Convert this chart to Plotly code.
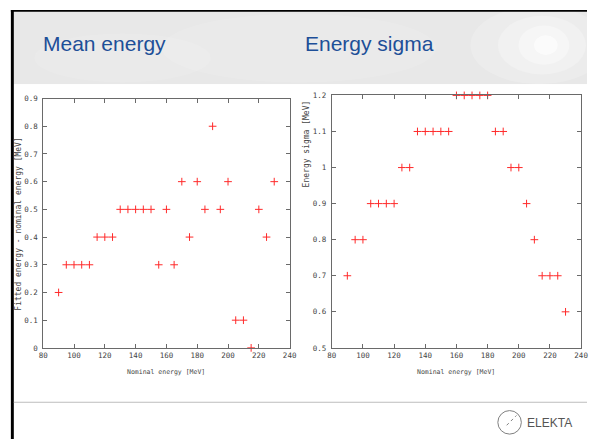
import plotly.graph_objects as go

# Nominal beam energies [MeV]
nominal_energy = [90, 95, 100, 105, 110, 115, 120, 125, 130, 135, 140, 145, 150, 155, 160,
                  165, 170, 175, 180, 185, 190, 195, 200, 205, 210, 215, 220, 225, 230]

# Fitted energy - nominal energy [MeV]
mean_offset = [0.2, 0.3, 0.3, 0.3, 0.3, 0.4, 0.4, 0.4, 0.5, 0.5, 0.5, 0.5, 0.5, 0.3, 0.5,
               0.3, 0.6, 0.4, 0.6, 0.5, 0.8, 0.5, 0.6, 0.1, 0.1, 0.0, 0.5, 0.4, 0.6]

# Energy sigma [MeV]
energy_sigma = [0.7, 0.8, 0.8, 0.9, 0.9, 0.9, 0.9, 1.0, 1.0, 1.1, 1.1, 1.1, 1.1, 1.1, 1.2,
                1.2, 1.2, 1.2, 1.2, 1.1, 1.1, 1.0, 1.0, 0.9, 0.8, 0.7, 0.7, 0.7, 0.6]

slide_titles = ["Mean energy", "Energy sigma"]
x_title = "Nominal energy [MeV]"
y_titles = ["Fitted energy - nominal energy [MeV]", "Energy sigma [MeV]"]

W, H = 594, 444


def px(x):
    return x / W


def py(y):
    return 1 - y / H


marker = dict(symbol="cross-thin", size=5.5, line=dict(color="#ff2a2a", width=1))

fig = go.Figure()
fig.add_trace(go.Scatter(x=nominal_energy, y=mean_offset, mode="markers", marker=marker,
                         cliponaxis=False, xaxis="x", yaxis="y", showlegend=False))
fig.add_trace(go.Scatter(x=nominal_energy, y=energy_sigma, mode="markers", marker=marker,
                         cliponaxis=False, xaxis="x2", yaxis="y2", showlegend=False))

tick_font = dict(family="DejaVu Sans Mono", size=7.5, color="#444444")
axis_common = dict(showgrid=False, zeroline=False, showline=True, mirror="ticks",
                   linecolor="#6a6a6a", linewidth=1, ticks="inside", ticklen=4,
                   tickcolor="#6a6a6a", tickfont=tick_font)

fig.update_layout(
    width=W, height=H,
    margin=dict(l=0, r=0, t=0, b=0),
    paper_bgcolor="white", plot_bgcolor="rgba(0,0,0,0)",
    xaxis=dict(domain=[px(39), px(290.5)], range=[80, 240], dtick=20, anchor="y", **axis_common),
    yaxis=dict(domain=[py(351), py(96.5)], range=[0, 0.9], dtick=0.1, anchor="x",
               ticklabelstandoff=3, **axis_common),
    xaxis2=dict(domain=[px(333.5), px(588)], range=[80, 240], dtick=20, anchor="y2", **axis_common),
    yaxis2=dict(domain=[py(351), py(93.3)], range=[0.5, 1.2], dtick=0.1, anchor="x2",
                ticklabelstandoff=3, **axis_common),
)

shapes = []
# header band with a soft glow on the right
shapes.append(dict(type="rect", xref="paper", yref="paper", x0=px(7), x1=1, y0=py(82), y1=py(7),
                   fillcolor="#e8e8e8", line=dict(width=0), layer="below"))
for (cx, cy, rx, ry, op) in [(545, 42, 70, 40, 0.18), (548, 42, 45, 30, 0.25),
                             (550, 42, 26, 20, 0.35), (552, 42, 12, 10, 0.6),
                             (300, 45, 140, 35, 0.12), (120, 55, 90, 25, 0.1)]:
    shapes.append(dict(type="circle", xref="paper", yref="paper",
                       x0=px(cx - rx), x1=px(cx + rx), y0=py(cy + ry), y1=py(cy - ry),
                       fillcolor="white", opacity=op, line=dict(width=0), layer="below"))
# plain white below the header and above the frame
shapes.append(dict(type="rect", xref="paper", yref="paper", x0=px(9), x1=1, y0=0, y1=py(82),
                   fillcolor="white", line=dict(width=0), layer="below"))
shapes.append(dict(type="rect", xref="paper", yref="paper", x0=0, x1=1, y0=py(6), y1=1,
                   fillcolor="white", line=dict(width=0), layer="below"))
# slide frame lines
shapes.append(dict(type="rect", xref="paper", yref="paper", x0=px(6), x1=1, y0=py(8), y1=py(6),
                   fillcolor="black", line=dict(width=0)))
shapes.append(dict(type="rect", xref="paper", yref="paper", x0=px(6), x1=px(9), y0=0, y1=py(6),
                   fillcolor="black", line=dict(width=0)))
# footer separator
shapes.append(dict(type="line", xref="paper", yref="paper", x0=px(9), x1=1, y0=py(406.5), y1=py(406.5),
                   line=dict(color="#bdbdbd", width=1)))
# logo mark
shapes.append(dict(type="circle", xref="paper", yref="paper", x0=px(503), x1=px(527),
                   y0=py(439), y1=py(415), line=dict(color="#808080", width=1)))
shapes.append(dict(type="line", xref="paper", yref="paper", x0=px(512), x1=px(522),
                   y0=py(430), y1=py(420), line=dict(color="#808080", width=1, dash="dot")))
fig.update_layout(shapes=shapes)

annotations = []
title_font = dict(family="Liberation Sans, Arial, sans-serif", size=21, color="#1d4f98")
annotations.append(dict(text=slide_titles[0], x=px(37), y=py(40), xref="paper", yref="paper",
                        xanchor="left", yanchor="middle", showarrow=False, font=title_font))
annotations.append(dict(text=slide_titles[1], x=px(304), y=py(40), xref="paper", yref="paper",
                        xanchor="left", yanchor="middle", showarrow=False, font=title_font))
axis_title_font = dict(family="DejaVu Sans Mono", size=6.5, color="#444444")
ytitle_font = dict(family="DejaVu Sans Mono", size=8, color="#444444")
annotations.append(dict(text=x_title, x=px(164.5), y=py(376), xref="paper", yref="paper",
                        xanchor="center", yanchor="middle", showarrow=False, font=axis_title_font))
annotations.append(dict(text=x_title, x=px(460.5), y=py(376), xref="paper", yref="paper",
                        xanchor="center", yanchor="middle", showarrow=False, font=axis_title_font))
annotations.append(dict(text=y_titles[0], x=px(13.5), y=py(225), xref="paper", yref="paper",
                        xanchor="center", yanchor="middle", showarrow=False, textangle=-90,
                        font=ytitle_font))
annotations.append(dict(text=y_titles[1], x=px(308), y=py(142.5), xref="paper", yref="paper",
                        xanchor="center", yanchor="middle", showarrow=False, textangle=-90,
                        font=ytitle_font))
annotations.append(dict(text="ELEKTA", x=px(531), y=py(427.5), xref="paper", yref="paper",
                        xanchor="left", yanchor="middle", showarrow=False,
                        font=dict(family="Liberation Sans Narrow, Liberation Sans, sans-serif",
                                  size=12, color="#555555")))
fig.update_layout(annotations=annotations)

fig.write_html("out.html")
